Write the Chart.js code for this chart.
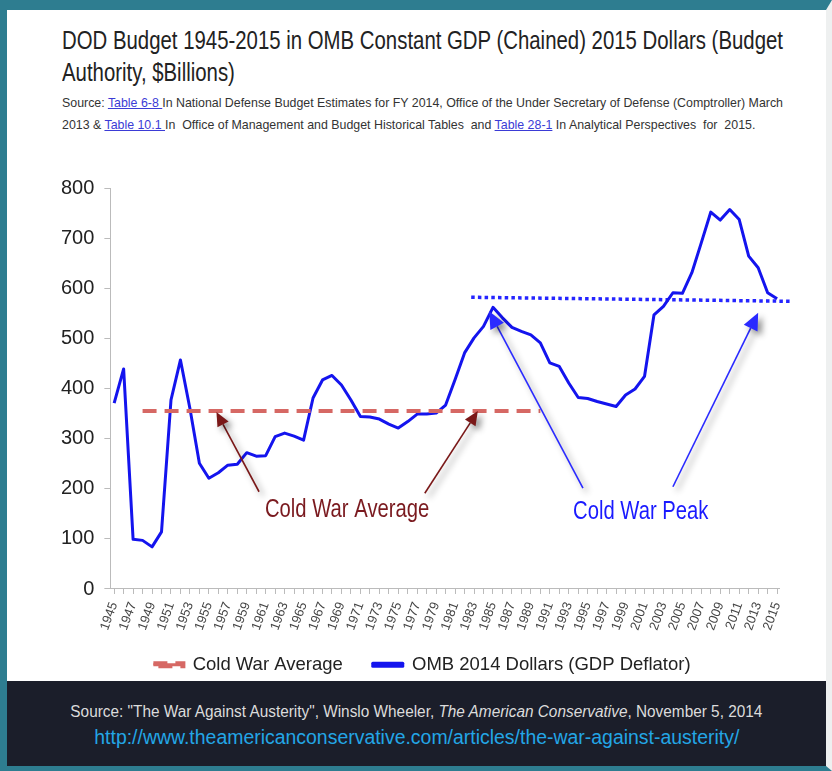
<!DOCTYPE html>
<html>
<head>
<meta charset="utf-8">
<script src="https://cdn.jsdelivr.net/npm/chart.js@4"></script>
<style>
  html, body { margin: 0; padding: 0; background: #fff; }
  body { width: 832px; height: 771px; position: relative; overflow: hidden; font-family: 'Liberation Sans', Arial, sans-serif; }
  .frame { position: absolute; left: 0; top: 0; width: 832px; height: 771px; box-sizing: border-box;
           border-top: 10px solid #2e7d90; border-left: 7px solid #2e7d90; border-bottom: 5px solid #2e7d90;
           border-right: 6px solid #eef0f0; }
  .title { position: absolute; left: 62px; top: 24px; font-size: 25px; line-height: 32px; color: #222; white-space: nowrap; }
  .src { position: absolute; left: 62px; top: 92px; font-size: 13.5px; line-height: 22px; color: #333; white-space: nowrap; }
  .src u { color: #3b3bd6; }
  #wrap { position: absolute; left: 6px; top: 150px; width: 816px; height: 551px; }
  .footer { position: absolute; left: 7px; top: 681px; width: 819px; height: 85px; background: #1b1e2a; text-align: center; }
  .footer div { position: absolute; left: 0; right: 0; white-space: nowrap; }
  .footer span { display: inline-block; transform-origin: center top; }
  .footer .l1 { top: 22px; font-size: 16px; color: #dcdcdc; }
  .footer .l2 { top: 45px; font-size: 20px; color: #23a6e6; }
</style>
</head>
<body>
<div class="frame"></div>
<div class="title" id="title">DOD Budget 1945-2015 in OMB Constant GDP (Chained) 2015 Dollars (Budget<br>Authority, $Billions)</div>
<div class="src" id="src">Source: <u>Table 6-8 </u>In National Defense Budget Estimates for FY 2014, Office of the Under Secretary of Defense (Comptroller) March<br>2013 &amp; <u>Table 10.1 </u>In&nbsp; Office of Management and Budget Historical Tables&nbsp; and <u>Table 28-1</u> In Analytical Perspectives&nbsp; for&nbsp; 2015.</div>
<div id="wrap"><canvas id="budgetChart" width="816" height="551"></canvas></div>
<div class="footer">
  <div class="l1"><span id="foot1">Source: "The War Against Austerity", Winslo Wheeler, <i>The American Conservative</i>, November 5, 2014</span></div>
  <div class="l2"><span id="foot2">http://www.theamericanconservative.com/articles/the-war-against-austerity/</span></div>
</div>
<script>
// years on the x axis (labels shown on odd years only)
const years = [1945,1946,1947,1948,1949,1950,1951,1952,1953,1954,
  1955,1956,1957,1958,1959,1960,1961,1962,1963,1964,
  1965,1966,1967,1968,1969,1970,1971,1972,1973,1974,
  1975,1976,1977,1978,1979,1980,1981,1982,1983,1984,
  1985,1986,1987,1988,1989,1990,1991,1992,1993,1994,
  1995,1996,1997,1998,1999,2000,2001,2002,2003,2004,
  2005,2006,2007,2008,2009,2010,2011,2012,2013,2014,2015];

// OMB 2014 dollars, $billions
const budget = [371,439,99,97,84,114,377,457,360,251,
  221,232,247,249,272,265,266,304,311,305,
  297,381,417,426,407,377,344,343,339,329,
  321,334,349,349,351,367,418,471,501,524,
  562,541,522,514,507,491,451,444,411,382,
  380,374,369,364,387,399,424,547,564,591,
  590,631,691,752,736,757,737,664,641,591,579];

// cold war average (dashed) and cold war peak (dotted) reference lines
const avgYears = [1948, 1990];
const avgValues = [355, 355];
const peakYears = [1982.7, 2016.5];
const peakValues = [582, 574];

const yTicks = [0,100,200,300,400,500,600,700,800];

// arrows + labels, in data units (year, $billions)
const arrowNotes = [
  { from: [1960.3, 194], to: [1955.8, 353], color: '#7a1818', head: 14 },
  { from: [1977.8, 191], to: [1983.4, 355], color: '#7a1818', head: 14 },
  { from: [1994.5, 201], to: [1984.6, 554], color: '#2a2aff', head: 17 },
  { from: [2004.0, 204], to: [2013.0, 551], color: '#2a2aff', head: 17 }
];
const textNotes = [
  { text: 'Cold War Average', at: [1969.6, 158], color: '#7a1a1f' },
  { text: 'Cold War Peak', at: [2000.6, 154], color: '#1a1aff' }
];

const SANS = "'Liberation Sans', Arial, sans-serif";

// squeeze html text to the widths of the original (it uses a condensed face)
function fitWidth(id, target, origin) {
  const el = document.getElementById(id);
  const w = el.getBoundingClientRect().width;
  el.style.transformOrigin = origin;
  el.style.transform = 'scaleX(' + (target / w).toFixed(4) + ')';
}
fitWidth('title', 721, 'left top');
fitWidth('src', 721, 'left top');
fitWidth('foot1', 692, 'center top');
fitWidth('foot2', 645, 'center top');

const notesPlugin = {
  id: 'notes',
  afterLayout(chart) {
    // legend sits closer to the axis labels (and a bit right) in the original
    chart.legend.top -= 13;
    chart.legend.bottom -= 13;
    chart.legend.left += 7;
    chart.legend.right += 7;
  },
  afterDatasetsDraw(chart) {
    const ctx = chart.ctx;
    const x = chart.scales.x, y = chart.scales.y;
    arrowNotes.forEach(a => {
      const x0 = x.getPixelForValue(a.from[0]), y0 = y.getPixelForValue(a.from[1]);
      const x1 = x.getPixelForValue(a.to[0]), y1 = y.getPixelForValue(a.to[1]);
      const ang = Math.atan2(y1 - y0, x1 - x0);
      const bx = x1 - a.head * Math.cos(ang), by = y1 - a.head * Math.sin(ang);
      const hw = a.head * 0.45;
      ctx.save();
      ctx.shadowColor = 'rgba(0,0,0,0.45)';
      ctx.shadowBlur = 6;
      ctx.shadowOffsetX = 4;
      ctx.shadowOffsetY = 4;
      ctx.strokeStyle = a.color;
      ctx.fillStyle = a.color;
      ctx.lineWidth = 1.6;
      ctx.beginPath();
      ctx.moveTo(x0, y0);
      ctx.lineTo(bx, by);
      ctx.stroke();
      ctx.beginPath();
      ctx.moveTo(x1, y1);
      ctx.lineTo(bx + hw * Math.sin(ang), by - hw * Math.cos(ang));
      ctx.lineTo(bx - hw * Math.sin(ang), by + hw * Math.cos(ang));
      ctx.closePath();
      ctx.fill();
      ctx.restore();
    });
    textNotes.forEach(t => {
      ctx.save();
      ctx.translate(x.getPixelForValue(t.at[0]), y.getPixelForValue(t.at[1]));
      ctx.scale(0.81, 1);
      ctx.font = '25px ' + SANS;
      ctx.fillStyle = t.color;
      ctx.textAlign = 'center';
      ctx.textBaseline = 'middle';
      ctx.fillText(t.text, 0, 0);
      ctx.restore();
    });
  }
};

const ctx = document.getElementById('budgetChart');
const budgetChart = new Chart(ctx, {
  type: 'line',
  data: {
    datasets: [
      {
        label: 'Cold War Average',
        data: avgYears.map((yr, i) => ({ x: yr, y: avgValues[i] })),
        borderColor: 'rgba(214, 104, 100, 1)',
        backgroundColor: 'rgba(214, 104, 100, 1)',
        borderWidth: 4,
        borderDash: [14, 8],
        pointRadius: 0
      },
      {
        label: 'OMB 2014 Dollars (GDP Deflator)',
        data: years.map((yr, i) => ({ x: yr, y: budget[i] })),
        borderColor: '#1414ee',
        backgroundColor: '#1414ee',
        borderWidth: 3,
        borderJoinStyle: 'round',
        pointRadius: 0,
        tension: 0
      },
      {
        label: 'peak',
        data: peakYears.map((yr, i) => ({ x: yr, y: peakValues[i] })),
        borderColor: '#2525ff',
        borderWidth: 3.5,
        borderDash: [3.5, 3.2],
        pointRadius: 0,
        clip: false
      }
    ]
  },
  options: {
    responsive: false,
    animation: false,
    layout: { padding: { left: 45, right: 43, top: 38, bottom: 4 } },
    plugins: {
      legend: {
        position: 'bottom',
        labels: {
          filter: (item) => item.text !== 'peak',
          font: { size: 18.5, family: SANS },
          color: '#222',
          boxWidth: 30,
          boxHeight: 3,
          padding: 30
        }
      },
      tooltip: { enabled: false }
    },
    scales: {
      x: {
        type: 'linear',
        min: 1944.6,
        max: 2015.2,
        afterBuildTicks: (axis) => { axis.ticks = years.map(v => ({ value: v })); },
        ticks: {
          callback: (v) => (v % 2 === 1 ? String(v) : ''),
          minRotation: 70,
          maxRotation: 70,
          autoSkip: false,
          font: { size: 13, family: SANS },
          color: '#444',
          padding: 6
        },
        grid: { drawOnChartArea: false, tickLength: 5, color: '#bbb' },
        border: { color: '#bbb' }
      },
      y: {
        min: 0,
        max: 800,
        afterBuildTicks: (axis) => { axis.ticks = yTicks.map(v => ({ value: v })); },
        ticks: { font: { size: 20, family: SANS }, color: '#222', padding: 10 },
        grid: { drawOnChartArea: false, tickLength: 6, color: '#bbb' },
        border: { color: '#bbb' }
      }
    }
  },
  plugins: [notesPlugin]
});
</script>
</body>
</html>
